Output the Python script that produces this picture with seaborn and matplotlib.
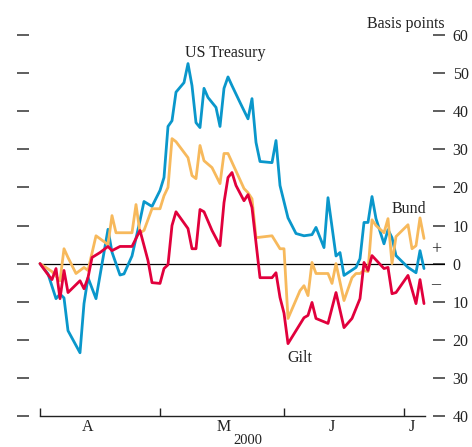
import matplotlib
matplotlib.use("Agg")
import matplotlib.pyplot as plt
import matplotlib.dates as mdates
import matplotlib.ticker as mticker
import pandas as pd
import seaborn as sns

# change in 10-year yields since start of April 2000, basis points
treasury_dates = ["04-01", "04-03", "04-05", "04-06", "04-07", "04-08", "04-11", "04-12",
                  "04-13", "04-15", "04-18", "04-19", "04-21", "04-22", "04-24", "04-26",
                  "04-27", "04-29", "05-01", "05-02", "05-03", "05-04", "05-05", "05-07",
                  "05-08", "05-09", "05-10", "05-11", "05-12", "05-13", "05-15", "05-16",
                  "05-17", "05-18", "05-19", "05-21", "05-23", "05-24", "05-25", "05-26",
                  "05-29", "05-30", "05-31", "06-02", "06-04", "06-06", "06-08", "06-09",
                  "06-11", "06-12", "06-14", "06-15", "06-16", "06-19", "06-20", "06-21",
                  "06-22", "06-23", "06-24", "06-26", "06-27", "06-28", "06-29", "07-02",
                  "07-04", "07-05", "07-06"]
treasury = [0, -2.7, -9.2, -8, -9, -17.6, -23.4, -10.5,
            -3.7, -9.2, 9, 3, -3, -2.7, 2, 11.3,
            16.3, 15, 19.2, 22.6, 36, 37.5, 45, 47.5,
            52.5, 46.7, 37, 35.7, 46, 43.6, 41, 36,
            46, 49, 46.7, 42.3, 38, 43.3, 31.8, 26.8,
            26.5, 32.3, 20.5, 12, 7.9, 7.3, 7.6, 9.5,
            4.2, 17.3, 2, 2.9, -3.1, -1, 1.3, 10.8,
            10.8, 17.6, 11.8, 5.2, 8.9, 6.8, 2.1, -1,
            -2.4, 3.4, -1.3]

bund_dates = ["04-01", "04-04", "04-06", "04-07", "04-08", "04-10", "04-12", "04-13",
              "04-15", "04-18", "04-19", "04-20", "04-24", "04-25", "04-26", "04-27",
              "04-29", "05-01", "05-02", "05-03", "05-04", "05-05", "05-08", "05-09",
              "05-10", "05-11", "05-12", "05-14", "05-16", "05-17", "05-18", "05-22",
              "05-23", "05-24", "05-25", "05-29", "05-31", "06-01", "06-02", "06-05",
              "06-06", "06-07", "06-08", "06-09", "06-12", "06-13", "06-14", "06-16",
              "06-18", "06-19", "06-20", "06-21", "06-22", "06-23", "06-24", "06-26",
              "06-27", "06-28", "06-29", "07-02", "07-03", "07-04", "07-05", "07-06"]
bund = [0, -2.1, -4.5, 3.9, 1.6, -2.6, -1, -1.8,
        7.3, 5, 12.6, 8.1, 8.1, 15.5, 8.1, 8.7,
        14.4, 14.4, 17.8, 20, 32.8, 32, 27.8, 23.1,
        22.3, 31, 27, 25.2, 21, 28.9, 28.9, 19.7,
        18.6, 17, 6.8, 7.3, 3.9, 3.9, -14.4, -7.1,
        -5.8, -8.4, 0.3, -2.6, -2.6, -5.2, 0, -9.7,
        -3.7, -2.6, -2.6, -1.8, -2.1, 11.5, 10, 8.1,
        11.8, 0, 7.1, 10.2, 3.9, 4.7, 12, 6.6]

gilt_dates = ["04-01", "04-03", "04-04", "04-05", "04-06", "04-07", "04-08", "04-11",
              "04-12", "04-13", "04-14", "04-16", "04-18", "04-19", "04-21", "04-24",
              "04-26", "04-28", "04-29", "05-01", "05-02", "05-03", "05-04", "05-05",
              "05-08", "05-09", "05-10", "05-11", "05-12", "05-14", "05-16", "05-17",
              "05-18", "05-19", "05-20", "05-22", "05-23", "05-24", "05-26", "05-29",
              "05-30", "05-31", "06-01", "06-02", "06-04", "06-06", "06-07", "06-08",
              "06-09", "06-12", "06-14", "06-16", "06-18", "06-20", "06-21", "06-22",
              "06-23", "06-26", "06-27", "06-28", "06-29", "07-02", "07-04", "07-05",
              "07-06"]
gilt = [0, -2.9, -4.2, -1.3, -9.2, -1.8, -7.6, -4.5,
        -6.6, -3.7, 1.6, 2.9, 4.5, 3.4, 4.5, 4.5,
        8.7, 0.8, -5, -5.2, -1.3, -0.3, 10, 13.6,
        9.2, 3.9, 3.9, 14.2, 13.6, 8.7, 4.7, 16,
        22.6, 23.9, 20.5, 16.5, 18.1, 14.7, -3.7, -3.7,
        -2.4, -8.9, -13, -21, -17.6, -14.2, -13.6, -10.2,
        -14.4, -15.7, -7.6, -16.8, -14.4, -9.2, 0.3, -1.8,
        2.1, -1.3, -1, -7.9, -7.6, -3.1, -10.5, -4.2,
        -10.5]

series_names = ["US Treasury", "Bund", "Gilt"]
series_colors = ["#0a97cb", "#f7b95c", "#e1003c"]
month_labels = ["A", "M", "J", "J"]
y_ticks = [-40, -30, -20, -10, 0, 10, 20, 30, 40, 50, 60]

frames = []
for name, d, v in [("US Treasury", treasury_dates, treasury),
                   ("Bund", bund_dates, bund),
                   ("Gilt", gilt_dates, gilt)]:
    frames.append(pd.DataFrame({"date": pd.to_datetime(["2000-" + s for s in d]),
                                "bp": v, "series": name}))
df = pd.concat(frames, ignore_index=True)

sns.set_style("white")
plt.rcParams["font.family"] = ["Liberation Serif", "DejaVu Serif"]
fs = 11.5
txt = "#222222"

fig = plt.figure(figsize=(4.72, 4.47), dpi=100)
ax = fig.add_axes([17 / 472, 31 / 447, 428 / 472, 381 / 447])

start = pd.Timestamp("2000-04-01")
ax.axhline(0, xmin=23 / 428, xmax=1, color="black", lw=0.9, zorder=1)

sns.lineplot(data=df, x="date", y="bp", hue="series", hue_order=series_names,
             palette=series_colors, linewidth=2.0, legend=False, ax=ax,
             estimator=None, sort=False, zorder=3)

ax.set_xlim(start - pd.Timedelta(days=5.75), start + pd.Timedelta(days=101.25))
ax.set_ylim(-40, 60)
ax.set_xlabel("")
ax.set_ylabel("")

for s in ["top", "left", "right"]:
    ax.spines[s].set_visible(False)
ax.spines["bottom"].set_color(txt)
ax.spines["bottom"].set_linewidth(1.0)
ax.spines["bottom"].set_bounds(mdates.date2num(start),
                               mdates.date2num(start + pd.Timedelta(days=96.25)))

# y ticks: short dashes on both sides, labels on the right as absolute values
ax.set_yticks(y_ticks)
ax.yaxis.set_major_formatter(mticker.FuncFormatter(lambda v, p: f"{abs(int(v))}"))
ax.tick_params(axis="y", which="major", direction="in", length=8.6, width=1.1,
               color="#333333", left=True, right=True, labelleft=False,
               labelright=True, pad=5.5, labelsize=fs, labelcolor=txt)

# x ticks at month starts, month letters in between
month_starts = pd.to_datetime(["2000-04-01", "2000-05-01", "2000-06-01", "2000-07-01"])
label_pos = pd.to_datetime(["2000-04-13", "2000-05-17", "2000-06-13", "2000-07-03"])
ax.set_xticks(mdates.date2num(month_starts))
ax.xaxis.set_major_formatter(mticker.NullFormatter())
ax.xaxis.set_minor_locator(mticker.FixedLocator(mdates.date2num(label_pos)))
ax.xaxis.set_minor_formatter(mticker.FixedFormatter(month_labels))
ax.tick_params(axis="x", which="minor", length=0, pad=2.5, labelsize=fs,
               labelcolor=txt)
ax.tick_params(axis="x", which="major", direction="in", length=5.5, width=1.0,
               color=txt, bottom=True)

# series labels
ax.text(start + pd.Timedelta(days=46.25), 55.2, "US Treasury", ha="center",
        va="center", fontsize=fs, color=txt)
ax.text(start + pd.Timedelta(days=92.25), 14.4, "Bund", ha="center",
        va="center", fontsize=fs, color=txt)
ax.text(start + pd.Timedelta(days=65), -24.9, "Gilt", ha="center",
        va="center", fontsize=fs, color=txt)
ax.text(start + pd.Timedelta(days=99), 3.6, "+", ha="center", va="center",
        fontsize=13, color=txt, clip_on=False)
ax.text(start + pd.Timedelta(days=99), -5.6, "\u2013", ha="center", va="center",
        fontsize=13, color=txt, clip_on=False)

fig.text(445 / 472, (447 - 24) / 447, "Basis points", ha="right", va="center",
         fontsize=fs, color=txt)
fig.text(248 / 472, 0, "2000", ha="center", va="bottom",
         fontsize=10.5, color=txt)

fig.savefig("out.png", dpi=100)
